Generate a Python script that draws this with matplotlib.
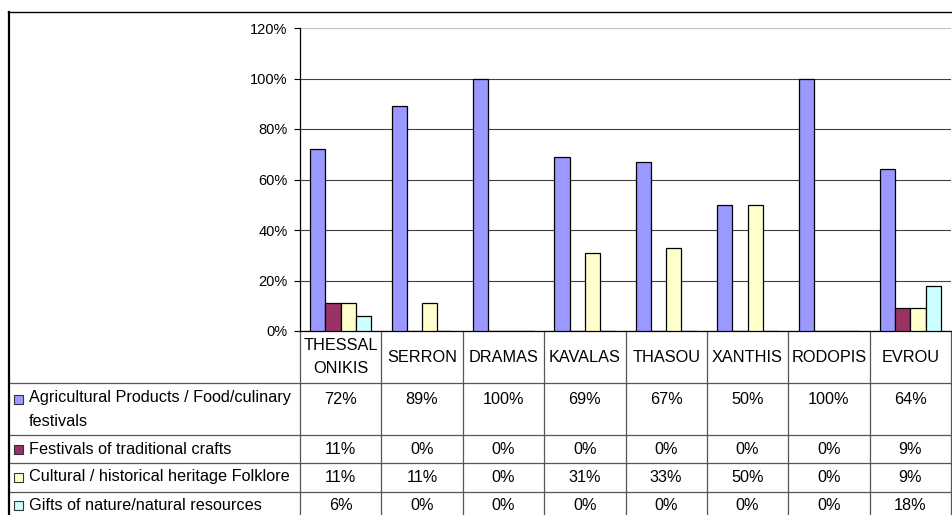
import matplotlib.pyplot as plt
from matplotlib.transforms import blended_transform_factory
from matplotlib.patches import Rectangle

plt.rcParams['font.family'] = ['Liberation Sans', 'DejaVu Sans']

# Data
regions = ["THESSAL\nONIKIS", "SERRON", "DRAMAS", "KAVALAS", "THASOU",
           "XANTHIS", "RODOPIS", "EVROU"]
series_names = ["Agricultural Products / Food/culinary\nfestivals",
                "Festivals of traditional crafts",
                "Cultural / historical heritage Folklore",
                "Gifts of nature/natural resources"]
agri = [0.72, 0.89, 1.00, 0.69, 0.67, 0.50, 1.00, 0.64]
crafts = [0.11, 0.00, 0.00, 0.00, 0.00, 0.00, 0.00, 0.09]
culture = [0.11, 0.11, 0.00, 0.31, 0.33, 0.50, 0.00, 0.09]
nature = [0.06, 0.00, 0.00, 0.00, 0.00, 0.00, 0.00, 0.18]
series = [agri, crafts, culture, nature]
colors = ["#9999FF", "#993366", "#FFFFCC", "#CCFFFF"]

W, H = 952, 515
fig = plt.figure(figsize=(W / 100, H / 100), dpi=100)

# overlay axes in pixel coordinates (y downwards) for table and borders
ov = fig.add_axes([0, 0, 1, 1])
ov.set_xlim(0, W)
ov.set_ylim(H, 0)
ov.axis("off")

# bar chart axes
x0, x1, ytop, ybot = 300, 951, 28, 331
ax = fig.add_axes([x0 / W, (H - ybot) / H, (x1 - x0) / W, (ybot - ytop) / H])
n = len(regions)
bw = 0.187
for j, (vals, c) in enumerate(zip(series, colors)):
    xs = [i + (j - 1.5) * bw for i in range(n)]
    ax.bar(xs, vals, width=bw, color=c, edgecolor="black", linewidth=0.9, zorder=3)

ax.set_xlim(-0.5, n - 0.5)
ax.set_ylim(0, 1.2)
ax.set_yticks([0, 0.2, 0.4, 0.6, 0.8, 1.0, 1.2])
ax.set_yticklabels(["0%", "20%", "40%", "60%", "80%", "100%", "120%"])
ax.set_xticks([])
ax.yaxis.grid(True, color="#404040", linewidth=0.8, zorder=0)
ax.get_ygridlines()[-1].set_color("#c0c0c0")
ax.tick_params(axis="y", direction="out", length=4, width=0.8, labelsize=10.5, pad=5)
for s in ["top", "right"]:
    ax.spines[s].set_visible(False)
ax.spines["left"].set_linewidth(0.9)
ax.spines["bottom"].set_linewidth(0.9)
ax.patch.set_alpha(0)

# table
tr = blended_transform_factory(ax.transData, ov.transData)
lc = "#555555"
for y in [383, 435, 463, 492]:
    ov.plot([8, x1], [y, y], color=lc, lw=0.9)
ov.plot([x0, x0], [ybot, H], color=lc, lw=0.9)
for i in range(1, n):
    ov.plot([i - 0.5, i - 0.5], [ybot, H], color=lc, lw=0.9, transform=tr)
ov.plot([x1, x1], [ybot, H], color=lc, lw=0.9)

# chart border
ov.plot([8, W], [12, 12], color="black", lw=1.0)
ov.plot([8.5, 8.5], [12, H], color="black", lw=1.6)

fs = 11.7
for i, r in enumerate(regions):
    ov.text(i, 357, r, transform=tr, ha="center", va="center", fontsize=fs,
            linespacing=1.65)

row_y = [399, 449, 477, 505]
for k, (name, vals, c) in enumerate(zip(series_names, series, colors)):
    y = row_y[k]
    ov.add_patch(Rectangle((14, y - 4.5), 9, 9, facecolor=c, edgecolor="#333333", lw=0.8))
    if k == 0:
        ov.text(29, y - 9, name, ha="left", va="top", fontsize=fs, linespacing=1.75)
    else:
        ov.text(29, y, name, ha="left", va="center", fontsize=fs)
    for i, v in enumerate(vals):
        ov.text(i, y, f"{round(v * 100):d}%", transform=tr, ha="center",
                va="center", fontsize=fs)

fig.savefig("out.png", dpi=100)
